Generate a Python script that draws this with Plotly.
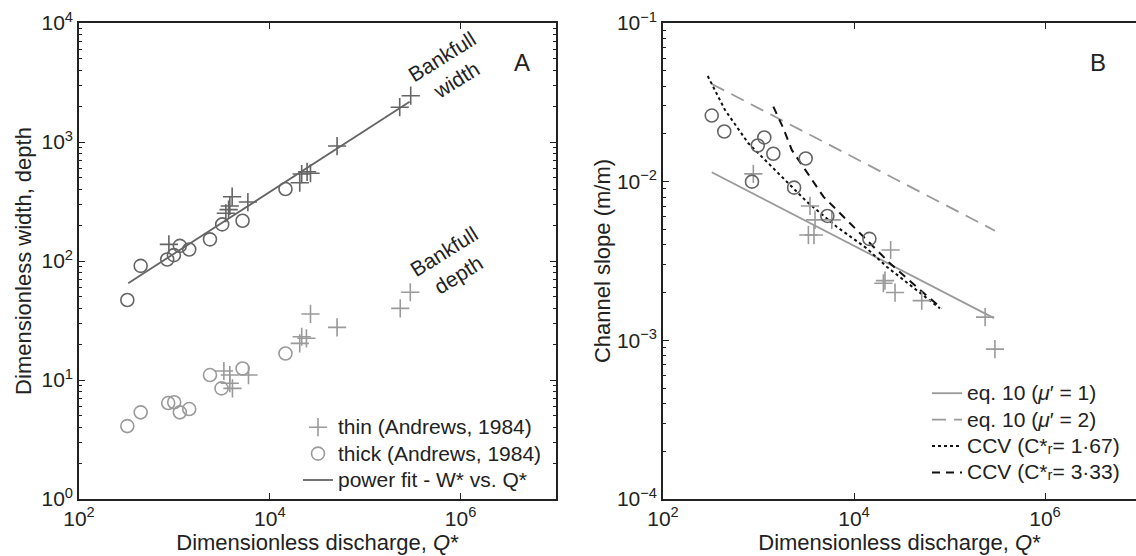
import plotly.graph_objects as go

# ---------------- Panel A data ----------------
thin_q = [875, 3460, 3700, 3810, 4030, 5890, 20600, 21600, 24600, 26700, 50700, 230000, 300000]
thin_w = [138, 252, 270, 290, 347, 313, 455, 538, 562, 546, 925, 1960, 2450]
thin_dq = [3300, 3810, 3810, 4060, 5980, 20600, 21600, 24200, 26700, 50700, 233000, 297000]
thin_d = [11.9, 11.0, 9.4, 8.5, 11.0, 20.3, 23.1, 22.4, 35.9, 27.7, 40.0, 54.6]

thick_q = [321, 443, 841, 988, 1140, 1430, 2360, 3170, 5180, 14600]
thick_w = [47, 91, 103, 112, 134, 125, 152, 203, 218, 403]
thick_dq = [321, 443, 861, 995, 1140, 1430, 2360, 3120, 5180, 14600]
thick_d = [4.1, 5.35, 6.4, 6.5, 5.35, 5.7, 11.0, 8.5, 12.5, 16.7]

fit_q = [328, 292000]
fit_w = [65, 2180]

# ---------------- Panel B data ----------------
b_thick_q = [324, 438, 855, 982, 1150, 1430, 2360, 3120, 5260, 14500]
b_thick_s = [0.0261, 0.0207, 0.0100, 0.0169, 0.0190, 0.0150, 0.00917, 0.0140, 0.00608, 0.00436]
b_thin_q = [883, 3330, 3460, 3810, 3910, 5850, 20300, 21100, 24200, 26900, 51200, 236000, 299000]
b_thin_s = [0.0112, 0.00461, 0.00703, 0.00461, 0.00574, 0.00574, 0.00229, 0.00238, 0.00371, 0.00200,
            0.00178, 0.00140, 0.00088]

eq1_q = [324, 292000]
eq1_s = [0.01146, 0.00138]
eq2_q = [324, 299000]
eq2_s = [0.0413, 0.00491]
ccv1_q = [294, 446, 782, 1750, 3200, 6590, 13600, 22000, 79400]
ccv1_s = [0.0463, 0.0283, 0.01746, 0.01076, 0.00748, 0.0052, 0.0038, 0.00291, 0.00159]
ccv2_q = [1430, 1820, 2230, 2940, 4780, 8380, 14700, 23800, 49100, 82800]
ccv2_s = [0.0297, 0.0217, 0.01585, 0.01245, 0.00805, 0.00574, 0.00409, 0.00306, 0.00208, 0.00159]

# tick labels
xa_ticks = [1e2, 1e4, 1e6]
xa_text = ["10<sup>2</sup>", "10<sup>4</sup>", "10<sup>6</sup>"]
ya_ticks = [1, 10, 100, 1000, 10000]
ya_text = ["10<sup>0</sup>", "10<sup>1</sup>", "10<sup>2</sup>", "10<sup>3</sup>", "10<sup>4</sup>"]
yb_ticks = [1e-4, 1e-3, 1e-2, 1e-1]
yb_text = ["10<sup>−4</sup>", "10<sup>−3</sup>", "10<sup>−2</sup>", "10<sup>−1</sup>"]

DARK = "#656565"
LIGHT = "#9a9a9a"
FONT = "Liberation Sans, Arial, sans-serif"
FS = 21
MS = 13
AX = "#222222"


def big(s):
    return '<span style="font-size:21px">' + s + "</span>"


fig = go.Figure()


def mk(x, y, sym, color, xa, ya, name=None, show=False, legend="legend", rank=1000):
    fig.add_trace(go.Scatter(
        x=x, y=y, mode="markers", name=name, showlegend=show, legend=legend, legendrank=rank,
        marker=dict(symbol=sym, size=MS, color=color, line=dict(color=color, width=1.6)),
        xaxis=xa, yaxis=ya))


# Panel A
mk(thin_dq, thin_d, "cross-thin-open", LIGHT, "x", "y", big("thin (Andrews, 1984)"), True, rank=1)
mk(thick_dq, thick_d, "circle-open", LIGHT, "x", "y", big("thick (Andrews, 1984)"), True, rank=2)
fig.add_trace(go.Scatter(x=fit_q, y=fit_w, mode="lines", name=big("power fit - W* vs. Q*"),
                         line=dict(color=DARK, width=1.8), legend="legend", legendrank=3,
                         xaxis="x", yaxis="y"))
mk(thin_q, thin_w, "cross-thin-open", DARK, "x", "y")
mk(thick_q, thick_w, "circle-open", DARK, "x", "y")

# Panel B
fig.add_trace(go.Scatter(x=eq1_q, y=eq1_s, mode="lines", name=big("eq. 10 (<i>μ</i>′ = 1)"),
                         line=dict(color=LIGHT, width=1.8), legend="legend2", legendrank=1,
                         xaxis="x2", yaxis="y2"))
fig.add_trace(go.Scatter(x=eq2_q, y=eq2_s, mode="lines", name=big("eq. 10 (<i>μ</i>′ = 2)"),
                         line=dict(color=LIGHT, width=1.8, dash="14px,8px"), legend="legend2",
                         legendrank=2, xaxis="x2", yaxis="y2"))
fig.add_trace(go.Scatter(x=ccv1_q, y=ccv1_s, mode="lines", name=big("CCV (C*ᵣ= 1·67)"),
                         line=dict(color="#111111", width=2, dash="3px,3px"), legend="legend2",
                         legendrank=3, xaxis="x2", yaxis="y2"))
fig.add_trace(go.Scatter(x=ccv2_q, y=ccv2_s, mode="lines", name=big("CCV (C*ᵣ= 3·33)"),
                         line=dict(color="#111111", width=2, dash="8px,6px"), legend="legend2",
                         legendrank=4, xaxis="x2", yaxis="y2"))
mk(b_thin_q, b_thin_s, "cross-thin-open", LIGHT, "x2", "y2")
mk(b_thick_q, b_thick_s, "circle-open", DARK, "x2", "y2")


def minor_vals(lo, hi):
    return [m * 10 ** e for e in range(lo, hi) for m in range(2, 10)]


axis_common = dict(
    type="log", showline=True, linecolor=AX, linewidth=1.6, showgrid=False, zeroline=False,
    ticks="inside", ticklen=6, tickwidth=1.2, tickcolor=AX, automargin=False, tickmode="array",
    tickfont=dict(family=FONT, size=FS, color=AX),
)
minor_common = dict(ticks="inside", ticklen=3, tickwidth=1, tickcolor=AX, showgrid=False)
title_font = dict(family=FONT, size=FS + 1, color=AX)

fig.update_layout(
    width=1136, height=556, paper_bgcolor="white", plot_bgcolor="white",
    margin=dict(l=0, r=0, t=0, b=0),
    font=dict(family=FONT, size=FS, color=AX),
    xaxis=dict(axis_common, domain=[79 / 1136, 556 / 1136], range=[2, 7], mirror="ticks",
               tickvals=xa_ticks, ticktext=xa_text,
               title=dict(text="Dimensionless discharge, <i>Q</i>*", standoff=2, font=title_font),
               anchor="y"),
    yaxis=dict(axis_common, domain=[57 / 556, 533 / 556], range=[0, 4], mirror="ticks",
               tickvals=ya_ticks, ticktext=ya_text,
               minor=dict(minor_common, tickvals=minor_vals(0, 4)),
               title=dict(text="Dimensionless width, depth", standoff=4, font=title_font),
               anchor="x"),
    xaxis2=dict(axis_common, domain=[663 / 1136, 1.0], range=[2, 2 + (1136 - 663) / 95.5],
                mirror="ticks", tickvals=xa_ticks, ticktext=xa_text,
                title=dict(text="Dimensionless discharge, <i>Q</i>*", standoff=2, font=title_font),
                anchor="y2"),
    yaxis2=dict(axis_common, domain=[57 / 556, 533 / 556], range=[-4, -1], mirror=False,
                tickvals=yb_ticks, ticktext=yb_text,
                minor=dict(minor_common, tickvals=minor_vals(-4, -1)),
                title=dict(text="Channel slope (m/m)", standoff=0, font=title_font),
                anchor="x2"),
    legend=dict(x=298 / 1136, y=1 - 409 / 556, xanchor="left", yanchor="top",
                bgcolor="rgba(255,255,255,0)", font=dict(family=FONT, size=18), tracegroupgap=0,
                itemwidth=30),
    legend2=dict(x=927 / 1136, y=1 - 375 / 556, xanchor="left", yanchor="top",
                 bgcolor="rgba(255,255,255,0)", font=dict(family=FONT, size=18), tracegroupgap=0,
                 itemwidth=30),
    annotations=[
        dict(text="Bankfull<br>width", x=5.88, y=3.62, xref="x", yref="y", showarrow=False,
             textangle=-32, font=dict(family=FONT, size=FS, color=AX)),
        dict(text="Bankfull<br>depth", x=5.90, y=1.98, xref="x", yref="y", showarrow=False,
             textangle=-32, font=dict(family=FONT, size=FS, color=AX)),
        dict(text="A", x=522 / 1136, y=1 - 47 / 556, xref="paper", yref="paper", showarrow=False,
             font=dict(family=FONT, size=FS + 3, color=AX)),
        dict(text="B", x=1108 / 1136, y=1 - 47 / 556, xref="paper", yref="paper", showarrow=False,
             font=dict(family=FONT, size=FS + 3, color=AX)),
    ],
)

fig.write_html("out.html")
